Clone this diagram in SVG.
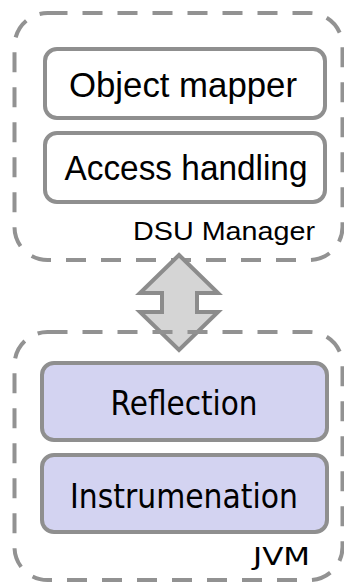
<svg xmlns="http://www.w3.org/2000/svg" width="344" height="582" viewBox="0 0 344 582">
<style>
.container{fill:none;stroke:#929292;stroke-width:4;stroke-dasharray:20 15;}
.box{stroke:#8f8f8f;stroke-width:4;}
.white{fill:#ffffff;}
.lav{fill:#d3d3f1;}
.t1{font-family:"Liberation Sans",Arial,sans-serif;font-size:35px;fill:#000;text-anchor:middle;}
.t2{font-family:"DejaVu Sans",Verdana,sans-serif;font-size:33px;fill:#000;text-anchor:middle;}
.lbl1{font-family:"Liberation Sans",Arial,sans-serif;font-size:26px;fill:#000;text-anchor:end;}
.lbl2{font-family:"DejaVu Sans",Verdana,sans-serif;font-size:25px;fill:#000;text-anchor:end;}
</style>
<rect width="344" height="582" fill="#ffffff"/>
<g id="dsu-manager">
  <rect class="container" x="14.5" y="13" width="328" height="247" rx="33" ry="33"/>
  <text class="lbl1" x="315" y="240" textLength="182" lengthAdjust="spacingAndGlyphs">DSU Manager</text>
</g>
<g id="object-mapper">
  <rect class="box white" x="45" y="49" width="280" height="69" rx="12" ry="12"/>
  <text class="t1" x="183" y="97" textLength="228" lengthAdjust="spacingAndGlyphs">Object mapper</text>
</g>
<g id="access-handling">
  <rect class="box white" x="45" y="133" width="280" height="69" rx="12" ry="12"/>
  <text class="t1" x="186" y="180" textLength="243" lengthAdjust="spacingAndGlyphs">Access handling</text>
</g>
<g id="connectors">
  <path d="M179,255 L218,293 L197,293 L197,312 L218,312 L179,350 L140,312 L162,312 L162,293 L140,293 Z" fill="#d5d5d5" stroke="#8c8c8c" stroke-width="4" stroke-linejoin="miter"/>
</g>
<g id="jvm">
  <rect class="container" x="14.5" y="332" width="328" height="248" rx="33" ry="33"/>
  <text class="lbl2" x="310" y="565" textLength="57" lengthAdjust="spacingAndGlyphs">JVM</text>
</g>
<g id="reflection">
  <rect class="box lav" x="42" y="363" width="285" height="77" rx="12" ry="12"/>
  <text class="t2" x="184" y="415" textLength="147" lengthAdjust="spacingAndGlyphs">Reflection</text>
</g>
<g id="instrumenation">
  <rect class="box lav" x="42" y="455" width="285" height="77" rx="12" ry="12"/>
  <text class="t2" x="184" y="508" textLength="228" lengthAdjust="spacingAndGlyphs">Instrumenation</text>
</g>
</svg>
